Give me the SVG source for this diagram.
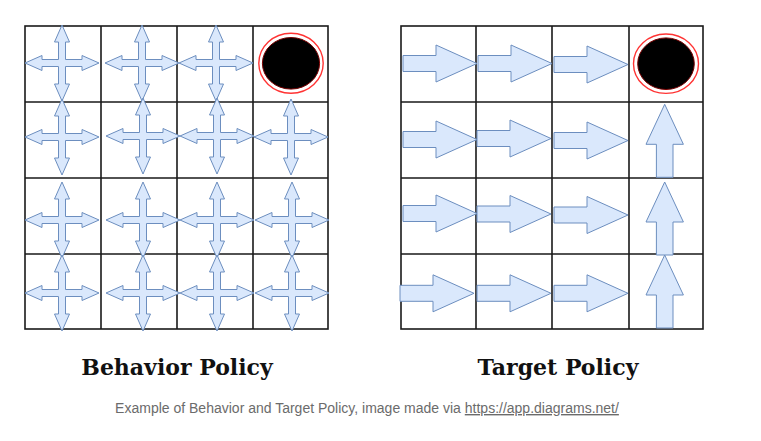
<svg xmlns="http://www.w3.org/2000/svg" xmlns:xlink="http://www.w3.org/1999/xlink" width="761" height="441" viewBox="0 0 761 441">
<style>
.grid{fill:none;stroke:#1a1a1a;stroke-width:1.6}
.arr{fill:#dae8fc;stroke:#6c8ebf;stroke-width:1}
.ring{fill:none;stroke:#ff3333;stroke-width:1.4}
.hole{fill:#000;stroke:#7a0000;stroke-width:1}
.title{font-family:"DejaVu Serif",serif;font-weight:bold;font-size:22px;fill:#111;text-anchor:middle}
.cap{font-family:"Liberation Sans",Arial,sans-serif;font-size:14px;fill:#6b6b6b;text-anchor:middle}
</style>
<defs>
<path id="quad" d="M0,-38 L7.5,-21 L3.5,-21 L3.5,-3.5 L20,-3.5 L20,-7.5 L37,0 L20,7.5 L20,3.5 L3.5,3.5 L3.5,21 L7.5,21 L0,38 L-7.5,21 L-3.5,21 L-3.5,3.5 L-20,3.5 L-20,7.5 L-37,0 L-20,-7.5 L-20,-3.5 L-3.5,-3.5 L-3.5,-21 L-7.5,-21 Z"/>
<path id="right" d="M0,-8 L33,-8 L33,-18.5 L74,0 L33,18.5 L33,8 L0,8 Z"/>
<path id="up" d="M-8.3,0 L-8.3,-33 L-18.7,-33 L0,-73 L18.7,-33 L8.3,-33 L8.3,0 Z"/>
</defs>
<rect width="761" height="441" fill="#fff"/>

<g id="grid-behavior" class="grid">
<rect x="25" y="26" width="303" height="303"/>
<path d="M101,26V329M177,26V329M253,26V329M25,102H328M25,178H328M25,254H328"/>
</g>
<g id="grid-target" class="grid">
<rect x="401" y="26" width="302" height="303"/>
<path d="M476,26V329M552,26V329M629,26V329M401,102H703M401,178H703M401,254H703"/>
</g>

<g id="behavior-arrows" class="arr">
<use href="#quad" x="62" y="63"/>
<use href="#quad" x="142" y="63"/>
<use href="#quad" x="216" y="63"/>
<use href="#quad" x="62" y="137"/>
<use href="#quad" x="143" y="136"/>
<use href="#quad" x="217" y="136"/>
<use href="#quad" x="291" y="137"/>
<use href="#quad" x="62" y="220"/>
<use href="#quad" x="143" y="220"/>
<use href="#quad" x="217" y="220"/>
<use href="#quad" x="292" y="220"/>
<use href="#quad" x="62" y="293"/>
<use href="#quad" x="143" y="293"/>
<use href="#quad" x="217" y="293"/>
<use href="#quad" x="292" y="293"/>
</g>
<g id="behavior-goal">
<ellipse class="ring" cx="291" cy="63.3" rx="32.2" ry="30"/>
<ellipse class="hole" cx="291" cy="63.3" rx="28.6" ry="25.8"/>
</g>

<g id="target-arrows" class="arr">
<use href="#right" x="403" y="63.5"/>
<use href="#right" x="478" y="63.5"/>
<use href="#right" x="554" y="64.5"/>
<use href="#right" x="403" y="139.5"/>
<use href="#right" x="477" y="138.5"/>
<use href="#right" x="554" y="140.5"/>
<use href="#right" x="403" y="213.5"/>
<use href="#right" x="477" y="214"/>
<use href="#right" x="554" y="215"/>
<use href="#right" x="400" y="293.3"/>
<use href="#right" x="477" y="293.3"/>
<use href="#right" x="554" y="293.3"/>
<use href="#up" x="664.7" y="177.3"/>
<use href="#up" x="664.7" y="255"/>
<use href="#up" x="664.7" y="328"/>
</g>
<g id="target-goal">
<ellipse class="ring" cx="666" cy="63.7" rx="32.5" ry="29.7"/>
<ellipse class="hole" cx="666" cy="63.7" rx="28.3" ry="25.8"/>
</g>

<g id="labels">
<text class="title" x="177" y="375">Behavior Policy</text>
<text class="title" x="558" y="375">Target Policy</text>
<text class="cap" x="367" y="413">Example of Behavior and Target Policy, image made via <tspan text-decoration="underline">https://app.diagrams.net/</tspan></text>
</g>
</svg>
